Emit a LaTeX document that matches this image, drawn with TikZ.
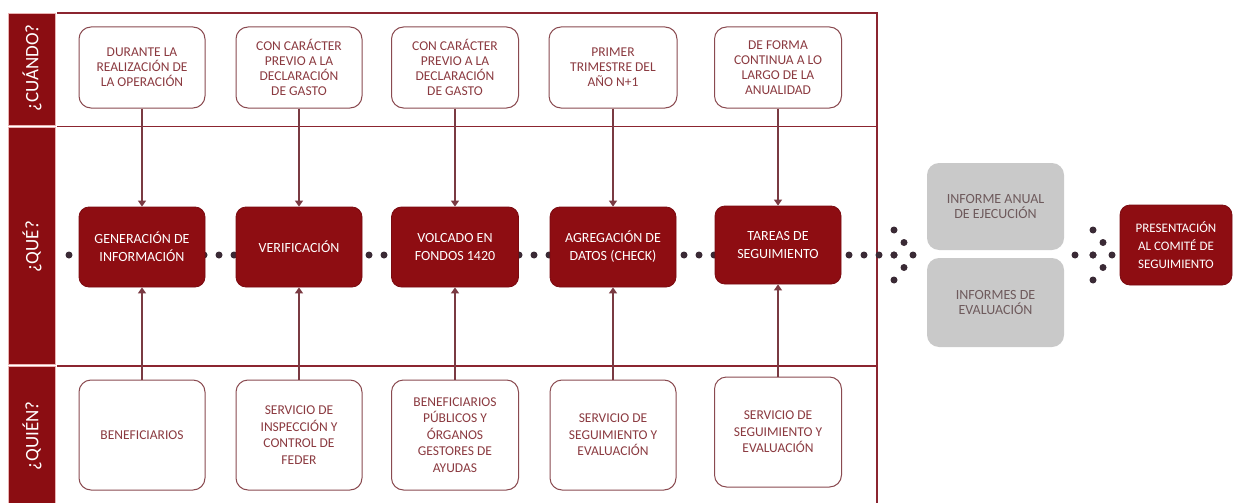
\documentclass[tikz,border=0pt]{standalone}
\usepackage{fontspec}
\setmainfont{Carlito}
\usetikzlibrary{arrows.meta,calc}
\definecolor{bar}{HTML}{8B0D12}
\definecolor{barline}{HTML}{E9B3B3}
\definecolor{dred}{HTML}{8E0D12}
\definecolor{dredline}{HTML}{7A0A10}
\definecolor{frame}{HTML}{8B2530}
\definecolor{boxline}{HTML}{8A4A50}
\definecolor{txt}{HTML}{8B3A40}
\definecolor{arr}{HTML}{7A3A42}
\definecolor{grayfill}{HTML}{C9C9C9}
\definecolor{graytxt}{HTML}{6E5A5C}
\definecolor{dotc}{HTML}{3A2A35}
\newcommand{\chevdots}[1]{%
  \foreach \dx/\dy in {0/-25, 10/-12.5, 19/0, 10/12.5, 0/25, 0/0}
    \fill[dotc] ($(#1)+(\dx,\dy)$) circle[radius=3.5pt];}
\begin{document}
\begin{tikzpicture}[x=1pt,y=-1pt,
  barseg/.style={fill=bar, draw=barline, line width=0.8pt},
  framel/.style={draw=frame, line width=1.8pt},
  lbl/.style={text=white, rotate=90, font=\fontsize{19}{19}\selectfont},
  whenbox/.style={draw=boxline, line width=1pt, rounded corners=12pt, fill=white,
    text=txt, align=center, font=\fontsize{13.5}{15}\selectfont, inner sep=2pt},
  whobox/.style={whenbox, font=\fontsize{13.5}{16.5}\selectfont},
  whatbox/.style={fill=dred, draw=dredline, line width=0.8pt, rounded corners=10pt,
    text=white, align=center, font=\fontsize{14}{18}\selectfont, inner sep=2pt},
  graybox/.style={fill=grayfill, draw=none, rounded corners=12pt,
    text=graytxt, align=center, font=\fontsize{14}{15}\selectfont, inner sep=2pt},
  dotline/.style={draw=dotc, line width=7pt, line cap=round, dash pattern=on 0pt off 15pt},
  dotline2/.style={draw=dotc, line width=7pt, line cap=round, dash pattern=on 0pt off 18pt},
  arrow/.style={draw=arr, line width=1.4pt, -{Triangle[width=8pt,length=6pt]}}
]
\useasboundingbox (0,0) rectangle (1234,503);
\fill[white] (0,0) rectangle (1234,503);

% left bar
\draw[barseg] (8,13) rectangle (55,125.5);
\draw[barseg] (8,127.5) rectangle (55,364.5);
\draw[barseg] (8,366.5) rectangle (55,503);
\node[lbl] (lq1) at (32,68) {¿CUÁNDO?};
\node[lbl] (lq2) at (32,247) {¿QUÉ?};
\node[lbl] (lq3) at (32,436) {¿QUIÉN?};

% frame
\draw[framel] (57,13) -- (877,13) -- (877,503);
\draw[framel] (57,126.5) -- (877,126.5);
\draw[framel] (57,366) -- (877,366);

% dotted flow (behind boxes)
\coordinate (dstart) at (69,255);
\coordinate (chev1) at (894,255);
\coordinate (d2start) at (1075,255);
\coordinate (chev2) at (1093,255);
\draw[dotline] (dstart) -- (chev1);
\chevdots{chev1}
\draw[dotline2] (d2start) -- (chev2);
\chevdots{chev2}

% when boxes
\node[whenbox, minimum width=126pt, minimum height=81pt] (t1) at (142,67.5) {DURANTE LA\\REALIZACIÓN DE\\LA OPERACIÓN};
\node[whenbox, minimum width=126pt, minimum height=81pt] (t2) at (299,67.5) {CON CARÁCTER\\PREVIO A LA\\DECLARACIÓN\\DE GASTO};
\node[whenbox, minimum width=127pt, minimum height=81pt] (t3) at (455,67.5) {CON CARÁCTER\\PREVIO A LA\\DECLARACIÓN\\DE GASTO};
\node[whenbox, minimum width=128pt, minimum height=81pt] (t4) at (613,67.5) {PRIMER\\TRIMESTRE DEL\\AÑO N+1};
\node[whenbox, minimum width=127pt, minimum height=81pt] (t5) at (778,67.5) {DE FORMA\\CONTINUA A LO\\LARGO DE LA\\ANUALIDAD};

% what boxes
\node[whatbox, minimum width=126pt, minimum height=80pt] (g1) at (142,247) {GENERACIÓN DE\\INFORMACIÓN};
\node[whatbox, minimum width=126pt, minimum height=80pt] (g2) at (299,247) {VERIFICACIÓN};
\node[whatbox, minimum width=127pt, minimum height=80pt] (g3) at (455,247) {VOLCADO EN\\FONDOS 1420};
\node[whatbox, minimum width=126pt, minimum height=80pt] (g4) at (613,247) {AGREGACIÓN DE\\DATOS (CHECK)};
\node[whatbox, minimum width=126pt, minimum height=78pt] (g5) at (778,245) {TAREAS DE\\SEGUIMIENTO};

% who boxes
\node[whobox, minimum width=126pt, minimum height=110pt] (b1) at (142,435) {BENEFICIARIOS};
\node[whobox, minimum width=126pt, minimum height=110pt] (b2) at (299,435) {SERVICIO DE\\INSPECCIÓN Y\\CONTROL DE\\FEDER};
\node[whobox, minimum width=127pt, minimum height=110pt] (b3) at (455,435) {BENEFICIARIOS\\PÚBLICOS Y\\ÓRGANOS\\GESTORES DE\\AYUDAS};
\node[whobox, minimum width=126pt, minimum height=110pt] (b4) at (613,435) {SERVICIO DE\\SEGUIMIENTO Y\\EVALUACIÓN};
\node[whobox, minimum width=127pt, minimum height=110pt] (b5) at (778,432) {SERVICIO DE\\SEGUIMIENTO Y\\EVALUACIÓN};

% right side
\node[graybox, minimum width=137pt, minimum height=87pt] (r1) at (995.5,206.5) {INFORME ANUAL\\DE EJECUCIÓN};
\node[graybox, minimum width=137pt, minimum height=89pt] (r2) at (995.5,302.5) {INFORMES DE\\EVALUACIÓN};
\node[whatbox, minimum width=112pt, minimum height=80pt, font=\fontsize{13}{18}\selectfont] (p1) at (1176,245) {PRESENTACIÓN\\AL COMITÉ DE\\SEGUIMIENTO};

% arrows
\foreach \i in {1,...,5} {
  \draw[arrow] (t\i.south) -- (g\i.north);
  \draw[arrow] (b\i.north) -- (g\i.south);
}
\end{tikzpicture}
\end{document}
